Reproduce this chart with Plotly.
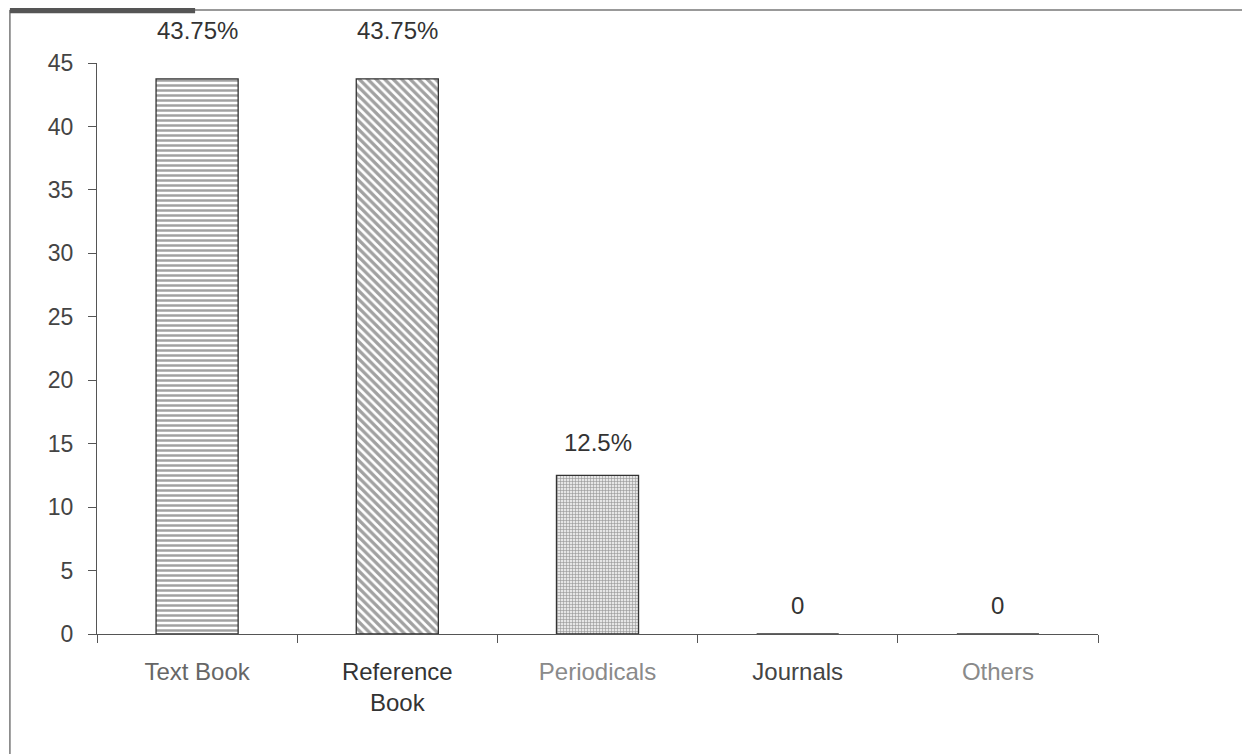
import plotly.graph_objects as go

categories = ["Text Book", "Reference Book", "Periodicals", "Journals", "Others"]
tick_labels = ["Text Book", "Reference<br>Book", "Periodicals", "Journals", "Others"]
values = [43.75, 43.75, 12.5, 0, 0]
value_labels = ["43.75%", "43.75%", "12.5%", "0", "0"]
y_ticks = [0, 5, 10, 15, 20, 25, 30, 35, 40, 45]

label_colors = ["#666666", "#333333", "#8a8a8a", "#444444", "#8a8a8a"]
label_shift = [48, 48, 33, 29, 29]
patterns = ["-", "\\", "+", "", ""]
pat_fg = ["#000000", "#000000", "#8c8c8c", "#000000", "#000000"]
pat_bg = ["#ffffff", "#ffffff", "#e6e6e6", "#ffffff", "#ffffff"]
pat_size = [5, 6, 3, 4, 4]
pat_sol = [0.5, 0.55, 0.35, 0.3, 0.3]

FONT = "Liberation Sans, Arial, sans-serif"

fig = go.Figure()
fig.add_trace(go.Bar(
    x=categories, y=values, width=0.41,
    marker=dict(
        color=pat_bg,
        line=dict(color="#333333", width=1.3),
        pattern=dict(shape=patterns, fgcolor=pat_fg, bgcolor=pat_bg,
                     size=pat_size, solidity=pat_sol, fillmode="overlay"),
    ),
    hoverinfo="skip",
))

for c, v, t, s in zip(categories, values, value_labels, label_shift):
    fig.add_annotation(x=c, y=v, text=t, showarrow=False, yanchor="middle",
                       yshift=s, font=dict(family=FONT, size=24, color="#333333"))

ticktext = [f"<span style='color:{col}'>{lab}</span>" for lab, col in zip(tick_labels, label_colors)]

fig.update_layout(
    width=1250, height=754,
    margin=dict(l=89, r=160, t=55, b=128),
    paper_bgcolor="white", plot_bgcolor="white",
    showlegend=False,
    font=dict(family=FONT, size=24, color="#444444"),
    xaxis=dict(
        tickvals=categories, ticktext=ticktext,
        showline=True, linecolor="#555555", linewidth=1.2,
        ticks="outside", tickson="boundaries", ticklen=8, tickcolor="#555555",
        showgrid=False, ticklabelstandoff=16,
        tickfont=dict(family=FONT, size=24),
    ),
    yaxis=dict(
        range=[0, 45], tickvals=y_ticks,
        showline=True, linecolor="#555555", linewidth=1.2,
        ticks="outside", ticklen=8, tickcolor="#555555",
        showgrid=False, zeroline=False,
        tickfont=dict(family=FONT, size=23, color="#444444"),
        ticklabelstandoff=10,
    ),
)

# scanned frame: left and top border lines
fig.add_shape(type="line", xref="paper", yref="paper",
              x0=-0.087, x1=-0.087, y0=-0.3, y1=1.093,
              line=dict(color="#777777", width=1.5))
fig.add_shape(type="line", xref="paper", yref="paper",
              x0=-0.087, x1=1.17, y0=1.093, y1=1.093,
              line=dict(color="#777777", width=1.5))
fig.add_shape(type="rect", xref="paper", yref="paper",
              x0=-0.087, x1=0.098, y0=1.087, y1=1.1,
              line=dict(width=0), fillcolor="#555555")

fig.write_html("out.html")
